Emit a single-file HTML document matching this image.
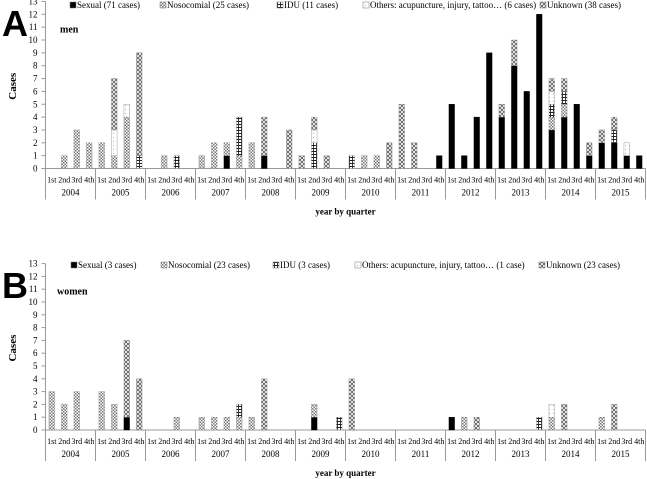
<!DOCTYPE html>
<html><head><meta charset="utf-8"><style>
html,body{margin:0;padding:0;background:#fff;}
svg{display:block;font-family:"Liberation Serif",serif;}
</style></head><body>
<svg id="c" width="647" height="479" viewBox="0 0 647 479">
<defs>
<pattern id="pNoso" width="3" height="3" patternUnits="userSpaceOnUse"><rect width="3" height="3" fill="#fff"/><rect width="1.5" height="1.5" fill="#777"/><rect x="1.5" y="1.5" width="1.5" height="1.5" fill="#777"/></pattern>
<pattern id="pUnk" width="4" height="4" patternUnits="userSpaceOnUse"><rect width="4" height="4" fill="#fff"/><path d="M0,0L4,4M4,0L0,4" stroke="#555" stroke-width="0.8"/></pattern>
<pattern id="pIdu" width="3" height="3" patternUnits="userSpaceOnUse"><rect width="3" height="3" fill="#fff"/><path d="M0,1.5H3M1.5,0V3" stroke="#222" stroke-width="0.9"/></pattern>
<pattern id="pOth" width="4" height="4" patternUnits="userSpaceOnUse"><rect width="4" height="4" fill="#fff"/><rect x="1" y="1" width="0.8" height="0.8" fill="#888"/></pattern>
</defs>
</svg>
<script>
const years=['2004','2005','2006','2007','2008','2009','2010','2011','2012','2013','2014','2015'];
const quarters=['1st','2nd','3rd','4th'];
const yTicks=[0,1,2,3,4,5,6,7,8,9,10,11,12,13];
const aSexual=[0,0,0,0, 0,0,0,0, 0,0,0,0, 0,0,1,0, 0,1,0,0, 0,0,0,0, 0,0,0,0, 0,0,0,1, 5,1,4,9, 4,8,6,12, 3,4,5,1, 2,2,1,1];
const aNoso=[0,1,3,2, 2,1,4,0, 0,1,0,0, 1,2,1,1, 2,0,0,0, 0,0,0,0, 0,1,1,0, 0,0,0,0, 0,0,0,0, 0,0,0,0, 1,1,0,0, 0,0,0,0];
const aIdu=[0,0,0,0, 0,0,0,1, 0,0,1,0, 0,0,0,3, 0,0,0,0, 0,2,0,0, 1,0,0,0, 0,0,0,0, 0,0,0,0, 0,0,0,0, 1,1,0,0, 0,1,0,0];
const aOthers=[0,0,0,0, 0,2,1,0, 0,0,0,0, 0,0,0,0, 0,0,0,0, 0,1,0,0, 0,0,0,0, 0,0,0,0, 0,0,0,0, 0,0,0,0, 1,0,0,0, 0,0,1,0];
const aUnknown=[0,0,0,0, 0,4,0,8, 0,0,0,0, 0,0,0,0, 0,3,0,3, 1,1,1,0, 0,0,0,2, 5,2,0,0, 0,0,0,0, 1,2,0,0, 1,1,0,1, 1,1,0,0];
const bSexual=[0,0,0,0, 0,0,1,0, 0,0,0,0, 0,0,0,0, 0,0,0,0, 0,1,0,0, 0,0,0,0, 0,0,0,0, 1,0,0,0, 0,0,0,0, 0,0,0,0, 0,0,0,0];
const bNoso=[3,2,3,0, 3,2,0,0, 0,0,1,0, 1,1,1,1, 1,0,0,0, 0,1,0,0, 0,0,0,0, 0,0,0,0, 0,1,0,0, 0,0,0,0, 1,0,0,0, 1,0,0,0];
const bIdu=[0,0,0,0, 0,0,0,0, 0,0,0,0, 0,0,0,1, 0,0,0,0, 0,0,0,1, 0,0,0,0, 0,0,0,0, 0,0,0,0, 0,0,0,1, 0,0,0,0, 0,0,0,0];
const bOthers=[0,0,0,0, 0,0,0,0, 0,0,0,0, 0,0,0,0, 0,0,0,0, 0,0,0,0, 0,0,0,0, 0,0,0,0, 0,0,0,0, 0,0,0,0, 1,0,0,0, 0,0,0,0];
const bUnknown=[0,0,0,0, 0,0,6,4, 0,0,0,0, 0,0,0,0, 0,4,0,0, 0,0,0,0, 4,0,0,0, 0,0,0,0, 0,0,1,0, 0,0,0,0, 0,2,0,0, 0,2,0,0];
const aLegend=['Sexual (71 cases)','Nosocomial (25 cases)','IDU (11 cases)','Others: acupuncture, injury, tattoo… (6 cases)','Unknown (38 cases)'];
const bLegend=['Sexual (3 cases)','Nosocomial (23 cases)','IDU (3 cases)','Others: acupuncture, injury, tattoo… (1 case)','Unknown (23 cases)'];

const svg=document.getElementById('c');
const NS='http://www.w3.org/2000/svg';
const fills=['#000','url(#pNoso)','url(#pIdu)','url(#pOth)','url(#pUnk)'];
const keys=['sexual','nosocomial','idu','others','unknown'];
function mk(t,a,txt){const e=document.createElementNS(NS,t);for(const k in a)e.setAttribute(k,a[k]);if(txt!==undefined)e.textContent=txt;svg.appendChild(e);return e;}
const X0=45.5,QW=12.5;
function xq(i){return X0+QW*i+QW/2;}

function panel(p){
  const y=v=>p.base-v*p.scale;
  let e=mk('line',{x1:X0,y1:y(13),x2:X0,y2:p.base,stroke:'#999','stroke-width':1});
  
  
  yTicks.forEach(t=>{
    let l=mk('line',{x1:X0-4,y1:y(t),x2:X0,y2:y(t),stroke:'#999'});
    
    
    let tx=mk('text',{x:X0-8,y:y(t)+3,'font-size':9,'text-anchor':'end',fill:'#000'},String(t));
    
    
  });
  e=mk('line',{x1:X0,y1:p.base,x2:X0+QW*48,y2:p.base,stroke:'#999'});
  
  
  for(let i=0;i<=12;i++){
    let l=mk('line',{x1:X0+50*i,y1:p.base,x2:X0+50*i,y2:p.base+31,stroke:'#999'});
    
    
  }
  years.forEach((yr,i)=>{
    let t=mk('text',{x:X0+50*i+25,y:p.base+27,'font-size':9,'text-anchor':'middle'},yr);
    
    
    quarters.forEach((q,j)=>{
      let tq=mk('text',{x:xq(i*4+j),y:p.base+14,'font-size':8,'text-anchor':'middle'},q);
      
      
    });
  });
  for(let i=0;i<48;i++){
    let acc=0;
    p.series.forEach((s,k)=>{
      const v=s[i]; if(!v) return;
      let r=mk('rect',{x:xq(i)-2.8,y:y(acc+v),width:5.6,height:v*p.scale,fill:fills[k],stroke:k==0?'#000':'#888','stroke-width':0.4});
      
      
      acc+=v;
    });
  }
  p.legend.forEach((txt,k)=>{
    let sw=mk('rect',{x:p.lx[k],y:p.ly-6,width:6,height:6,fill:fills[k],stroke:'#777','stroke-width':0.5});
    
    
    let t=mk('text',{x:p.lx[k]+7,y:p.ly,'font-size':9},txt);
    
    
  });
  let L=mk('text',{x:2,y:p.base-p.scale*10.3,'font-size':36,'font-weight':'bold','font-family':'Liberation Sans, sans-serif'},p.letter);
  
  
  let g=mk('text',{x:p.gx,y:p.base-p.scale*10.6,'font-size':10,'font-weight':'bold'},p.group);
  
  
  const cy=p.base-p.scale*6.4;
  let c=mk('text',{x:16,y:cy,'font-size':11,'font-weight':'bold','text-anchor':'middle',transform:'rotate(-90 16 '+cy+')'},'Cases');
  
  
  let xt=mk('text',{x:X0+300,y:p.base+46,'font-size':9,'font-weight':'bold','text-anchor':'middle'},'year by quarter');
  
  
}
panel({base:168.5,scale:12.85,series:[aSexual,aNoso,aIdu,aOthers,aUnknown],legend:aLegend,lx:[70,160,277,363,540],ly:8,letter:'A',group:'men',gx:60});
panel({base:430,scale:12.8,series:[bSexual,bNoso,bIdu,bOthers,bUnknown],legend:bLegend,lx:[71,161,273,355,539],ly:268,letter:'B',group:'women',gx:57});
</script>
</body></html>
